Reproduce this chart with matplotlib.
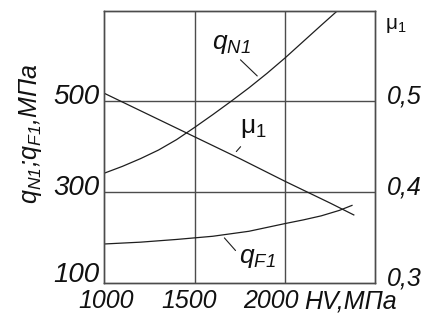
import matplotlib
matplotlib.use('Agg')
import matplotlib.pyplot as plt

plt.rcParams['font.family'] = ['Liberation Sans', 'DejaVu Sans']
plt.rcParams['mathtext.default'] = 'regular'

# qN1 - contact pressure, MPa
hv_qn = [1000, 1100, 1200, 1300, 1400, 1500, 1600, 1700, 1800, 1900, 2000, 2100, 2200, 2290]
qn = [342, 357, 374, 393, 416, 443, 471, 500, 530, 562, 596, 632, 668, 700]

# qF1 - bending pressure, MPa
hv_qf = [1000, 1200, 1400, 1600, 1800, 2000, 2100, 2200, 2300, 2370]
qf = [186, 190, 196, 203, 214, 231, 239, 248, 260, 271]

# mu1 - friction coefficient (right axis)
hv_mu = [1000, 1250, 1500, 1750, 2000, 2250, 2380]
mu = [0.509, 0.485, 0.461, 0.437, 0.412, 0.388, 0.375]

x_ticks = [1000, 1500, 2000]
x_labels = ['1000', '1500', '2000']
q_ticks = [100, 300, 500]
q_labels = ['100', '300', '500']
mu_ticks = [0.3, 0.4, 0.5]
mu_labels = ['0,3', '0,4', '0,5']

line_c = '#1e1e1e'
grid_c = '#4c4c4c'
txt_c = '#111111'

fig = plt.figure(figsize=(4.24, 3.24), dpi=100)
ax = fig.add_axes([0.246, 0.1265, 0.6396, 0.8405])
ax2 = ax.twinx()

ax.set_xlim(1000, 2500)
ax.set_ylim(100, 700)
ax2.set_ylim(0.3, 0.6)

ax.set_xticks([1500, 2000])
ax.set_yticks([300, 500])
ax.tick_params(length=0, labelbottom=False, labelleft=False)
ax2.set_yticks([])
ax.grid(True, color=grid_c, lw=1.0)
for a in (ax, ax2):
    for s in a.spines.values():
        s.set_color(grid_c)
        s.set_linewidth(1.0)

ax.plot(hv_qn, qn, color=line_c, lw=0.9)
ax.plot(hv_qf, qf, color=line_c, lw=0.9)
ax2.plot(hv_mu, mu, color=line_c, lw=0.9)

# tick labels (placed by hand like the drawing)
x_off = [2, -6, -14]
for x, lab, dx in zip(x_ticks, x_labels, x_off):
    ax.annotate(lab, xy=(x, 0), xycoords=('data', 'axes fraction'),
                xytext=(dx, -18), textcoords='offset pixels',
                ha='center', va='center', fontsize=18, style='italic', color=txt_c)
ax.annotate('HV,МПа', xy=(2000, 0), xycoords=('data', 'axes fraction'),
            xytext=(19, -18), textcoords='offset pixels',
            ha='left', va='center', fontsize=18, style='italic', color=txt_c)

q_off = [8.5, 4.7, 4.7]
for q, lab, dy in zip(q_ticks, q_labels, q_off):
    ax.annotate(lab, xy=(0, q), xycoords=('axes fraction', 'data'),
                xytext=(-51, dy), textcoords='offset pixels',
                ha='left', va='center', fontsize=20, style='italic', color=txt_c)

for m, lab in zip(mu_ticks, mu_labels):
    ax2.annotate(lab, xy=(1, m), xycoords=('axes fraction', 'data'),
                 xytext=(11, 4.5), textcoords='offset pixels',
                 ha='left', va='center', fontsize=18, style='italic', color=txt_c)
ax2.annotate('μ$_1$', xy=(1, 1), xycoords='axes fraction',
             xytext=(9.5, -15), textcoords='offset pixels',
             ha='left', va='center', fontsize=15, color=txt_c)

fig.text(31 / 424, 1 - 134 / 324, 'q$_{N1}$;q$_{F1}$,МПа', rotation=90,
         ha='center', va='center', fontsize=18, style='italic', color=txt_c)

# curve labels with leaders
ax.annotate('q$_{N1}$', xy=(1857, 552), xytext=(1705, 626), textcoords='data',
            ha='center', va='center', fontsize=19, style='italic', color=txt_c)
ax.annotate('', xy=(1857, 552), xytext=(1742, 596),
            arrowprops=dict(arrowstyle='-', color=line_c, lw=0.8))

ax.annotate('μ$_1$', xy=(1720, 385), xytext=(1824, 442), textcoords='data',
            ha='center', va='center', fontsize=19, color=txt_c)
ax.annotate('', xy=(1720, 385), xytext=(1764, 405),
            arrowprops=dict(arrowstyle='-', color=line_c, lw=0.8))

ax.annotate('q$_{F1}$', xy=(1654, 202), xytext=(1848, 155), textcoords='data',
            ha='center', va='center', fontsize=19, style='italic', color=txt_c)
ax.annotate('', xy=(1654, 204), xytext=(1736, 167),
            arrowprops=dict(arrowstyle='-', color=line_c, lw=0.8))

fig.savefig('out.png', dpi=100)
